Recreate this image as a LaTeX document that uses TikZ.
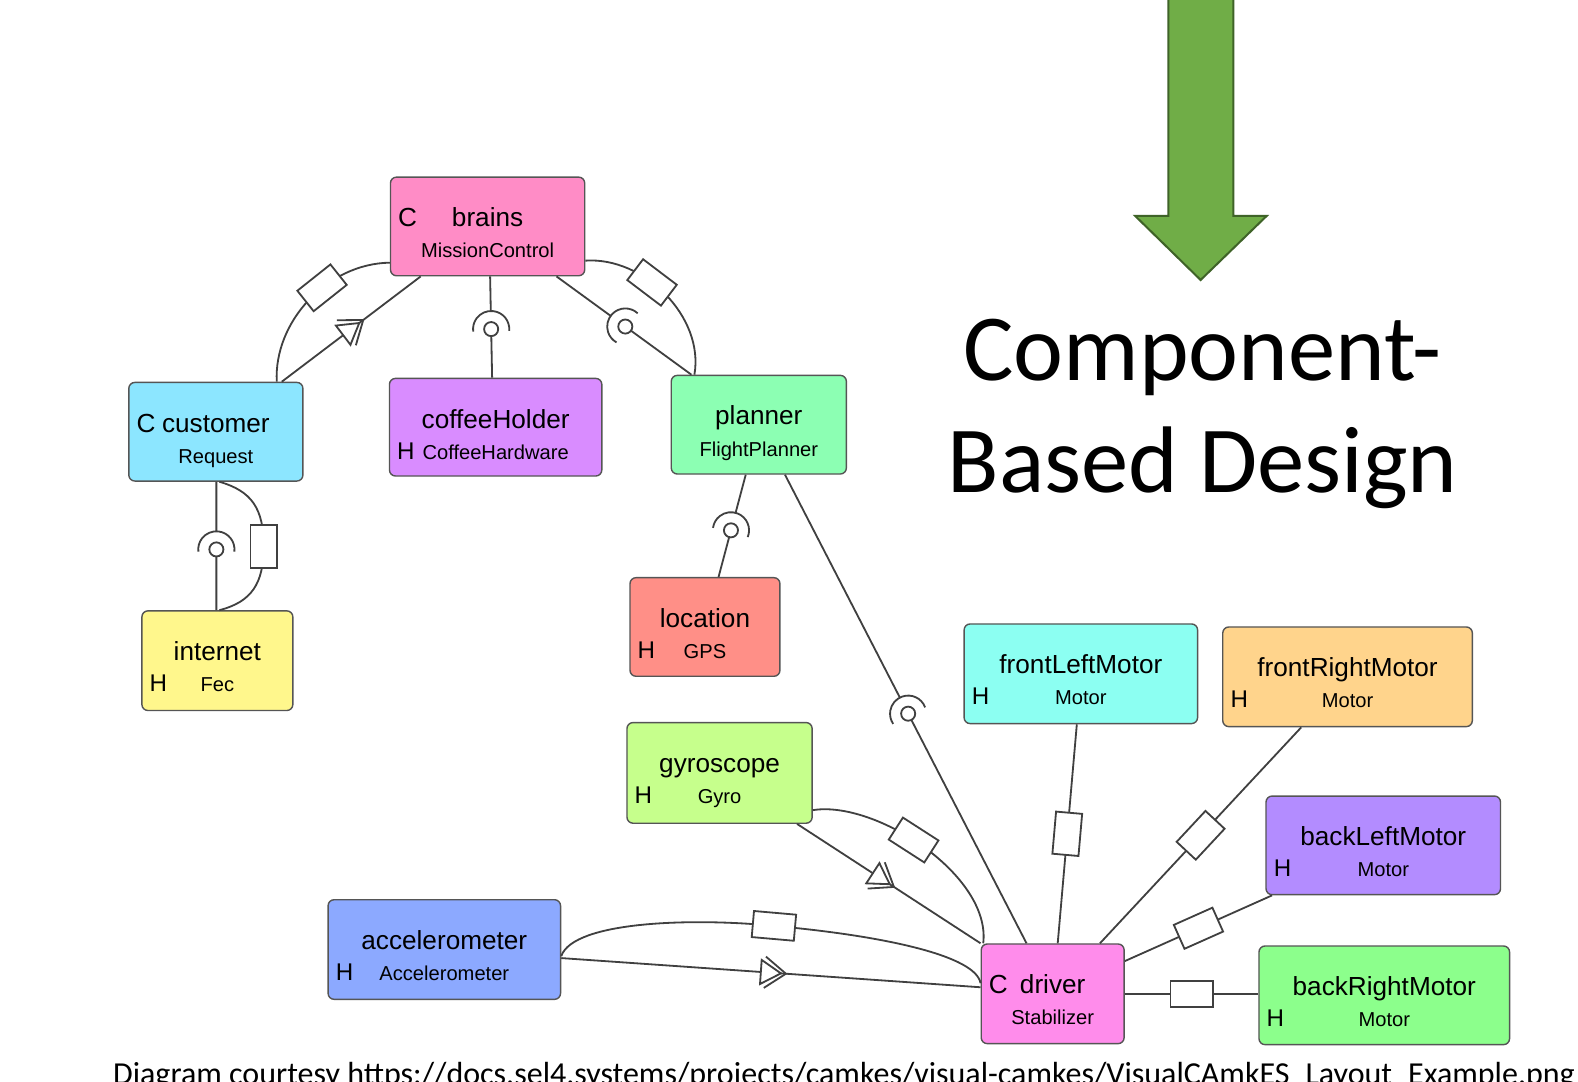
\documentclass[tikz,border=0pt]{standalone}
\usepackage{fontspec}
\setmainfont{Liberation Sans}
\newfontfamily\headfont{Carlito}
\usetikzlibrary{calc,fit,decorations.markings}

\definecolor{linegray}{HTML}{404040}
\definecolor{boxedge}{HTML}{555555}
\definecolor{arrowgreen}{HTML}{70AD47}
\definecolor{arrowedge}{HTML}{3F6328}
\definecolor{cBrains}{HTML}{FF8CC6}
\definecolor{cCustomer}{HTML}{8CE6FF}
\definecolor{cCoffee}{HTML}{D98CFF}
\definecolor{cPlanner}{HTML}{8CFFB3}
\definecolor{cInternet}{HTML}{FFF78C}
\definecolor{cLocation}{HTML}{FF8F87}
\definecolor{cGyro}{HTML}{C6FF8C}
\definecolor{cAccel}{HTML}{8CA9FF}
\definecolor{cDriver}{HTML}{FF8CEB}
\definecolor{cFLM}{HTML}{8CFFF2}
\definecolor{cFRM}{HTML}{FFD48C}
\definecolor{cBLM}{HTML}{B38CFF}
\definecolor{cBRM}{HTML}{8CFF8C}

\tikzset{
  comp/.style={draw=boxedge, line width=0.7pt, rounded corners=3pt, inner sep=0pt},
  ttl/.style={font=\fontsize{13}{15}\selectfont, anchor=base, inner sep=0pt},
  sub/.style={font=\fontsize{10}{12}\selectfont, anchor=base, inner sep=0pt},
  kindlabel/.style={font=\fontsize{12}{14}\selectfont, anchor=base west, inner sep=0pt},
  conn/.style={draw=linegray, line width=0.9pt},
  rectsym/.style={draw=linegray, line width=0.9pt, fill=white,
    minimum width=21pt, minimum height=13pt, inner sep=0pt},
  evt/.style={postaction={decorate}, decoration={markings, mark=at position #1 with {
    \filldraw[draw=linegray, fill=white, line width=0.9pt, line join=miter]
      (-5pt,6pt) -- (5pt,0pt) -- (-5pt,-6pt) -- cycle;
    \draw[linegray, line width=0.9pt, line join=miter]
      (-3pt,7.8pt) -- (7.5pt,0pt) -- (-3pt,-7.8pt);
  }}},
  head/.style={font=\headfont\fontsize{47}{56}\selectfont, anchor=base, inner sep=0pt},
  credit/.style={font=\headfont\fontsize{15.9}{18}\selectfont, anchor=base west, inner sep=0pt},
}

% component box: name, left, top, right, bottom, colour, title, type
\newcommand{\compbox}[8]{%
  \node[comp, fill=#6, fit={(#2,#3) (#4,#5)}] (#1) {};
  \node[ttl] (#1-title) at ($(#1.north)+(0,50)$) {#7};
  \node[sub] (#1-type) at ($(#1.north)+(0,81)$) {#8};
}
% kind letters: C on the title line, H on the type line
\newcommand{\kindC}[1]{\node[kindlabel, font=\fontsize{13}{15}\selectfont] (#1-kind) at ($(#1.north west)+(8,50)$) {C};}
\newcommand{\kindH}[1]{\node[kindlabel] (#1-kind) at ($(#1.north west)+(8,81)$) {H};}

% procedure link: socket on the using side #1, ball on the providing side #2
\newcommand{\socketlink}[4]{%
  \coordinate (#4) at ($(#1)!#3!(#2)$);
  \draw[conn] let \p1=($(#1)-(#4)$), \n1={atan2(\y1,\x1)} in
    (#1) -- ($(#4)+(\n1:9pt)$)
    ($(#4)+(\n1-97:9pt)$) arc[start angle=\n1-97, end angle=\n1+97, radius=9pt];
  \draw[conn] (#2) -- ($(#4)!3.5pt!(#2)$);
  \draw[conn, fill=white] (#4) circle[radius=3.5pt];
}

\begin{document}
\begin{tikzpicture}[x=0.5pt, y=-0.5pt]
\useasboundingbox (0,0) rectangle (1568,1075);
\clip (0,0) rectangle (1568,1075);
\fill[white] (0,0) rectangle (1568,1075);

% big down arrow
\filldraw[fill=arrowgreen, draw=arrowedge, line width=1pt, line join=miter]
  (1161,-10) -- (1161,214.6) -- (1128,214.6) -- (1193,278.2) -- (1258.6,214.6)
  -- (1225.5,214.6) -- (1225.5,-10) -- cycle;

\node[head] (head-a) at (1195,378) {Component-};
\node[head] (head-b) at (1195,489) {Based Design};

% components
\compbox{brains}{388}{176}{581}{274}{cBrains}{brains}{MissionControl}
\compbox{customer}{128}{380}{301}{478}{cCustomer}{customer}{Request}
\compbox{coffee}{387}{376}{598}{473}{cCoffee}{coffeeHolder}{CoffeeHardware}
\compbox{planner}{667}{373}{841}{471}{cPlanner}{planner}{FlightPlanner}
\compbox{internet}{141}{607}{291}{706}{cInternet}{internet}{Fec}
\compbox{location}{626}{574}{775}{672}{cLocation}{location}{GPS}
\compbox{gyro}{623}{718}{807}{818}{cGyro}{gyroscope}{Gyro}
\compbox{accel}{326}{894}{557}{993}{cAccel}{accelerometer}{Accelerometer}
\compbox{driver}{975}{938}{1117}{1037}{cDriver}{driver}{Stabilizer}
\compbox{flm}{958}{620}{1190}{719}{cFLM}{frontLeftMotor}{Motor}
\compbox{frm}{1215}{623}{1463}{722}{cFRM}{frontRightMotor}{Motor}
\compbox{blm}{1258}{791}{1491}{889}{cBLM}{backLeftMotor}{Motor}
\compbox{brm}{1251}{940}{1500}{1038}{cBRM}{backRightMotor}{Motor}

\kindC{brains}
\kindC{customer}
\kindC{driver}
\kindH{coffee}
\kindH{internet}
\kindH{location}
\kindH{gyro}
\kindH{accel}
\kindH{flm}
\kindH{frm}
\kindH{blm}
\kindH{brm}

% customer <-> brains
\draw[conn, evt=0.5] (280,0 |- customer.north) -- (418,0 |- brains.south);
\draw[conn] (275,0 |- customer.north) .. controls (272,320) and (325,262) .. (brains.west |- 0,261)
  node[rectsym, sloped, pos=0.6] (cb-port) {};

% brains -> coffeeHolder
\coordinate (bc-a) at (487,0 |- brains.south);
\coordinate (bc-b) at (489,0 |- coffee.north);
\socketlink{bc-a}{bc-b}{0.52}{bc-ball}

% brains <-> planner
\coordinate (bp-a) at (553,0 |- brains.south);
\coordinate (bp-b) at (687,0 |- planner.north);
\socketlink{bp-a}{bp-b}{0.51}{bp-ball}
\draw[conn] (brains.east |- 0,259) .. controls (640,255) and (700,315) .. (690,0 |- planner.north)
  node[rectsym, sloped, pos=0.4] (bp-port) {};

% customer <-> internet
\coordinate (ci-a) at (215,0 |- customer.south);
\coordinate (ci-b) at (215,0 |- internet.north);
\socketlink{ci-a}{ci-b}{0.527}{ci-ball}
\draw[conn] (218,0 |- customer.south) .. controls (250,488) and (262,505) .. (262,543)
  .. controls (262,580) and (250,598) .. (218,0 |- internet.north);
\node[rectsym, rotate=90] (ci-port) at (262,543) {};

% planner -> location
\coordinate (pl-a) at (741,0 |- planner.south);
\coordinate (pl-b) at (714,0 |- location.north);
\socketlink{pl-a}{pl-b}{0.544}{pl-ball}

% planner -> driver
\coordinate (pd-a) at (780,0 |- planner.south);
\coordinate (pd-b) at (1020,0 |- driver.north);
\socketlink{pd-a}{pd-b}{0.51}{pd-ball}

% gyroscope -> driver
\draw[conn, evt=0.46] (792,0 |- gyro.south) -- (driver.north west);
\draw[conn] (gyro.east |- 0,805) .. controls (870,795) and (985,870) .. (977,0 |- driver.north)
  node[rectsym, sloped, pos=0.45] (gd-port) {};

% accelerometer -> driver
\draw[conn, evt=0.5] (accel.east |- 0,952) -- (driver.west |- 0,981);
\draw[conn] (accel.east |- 0,950) .. controls (570,915) and (690,912) .. (769,920)
  .. controls (880,930) and (970,950) .. (driver.west |- 0,977);
\node[rectsym, rotate=-5] (ad-port) at (769,920) {};

% motors
\draw[conn] (1070,0 |- flm.south) -- node[rectsym, sloped] (fl-port) {} (1051,0 |- driver.north);
\draw[conn] (1293,0 |- frm.south) -- node[rectsym, sloped] (fr-port) {} (1093,0 |- driver.north);
\draw[conn] (1264,0 |- blm.south) -- node[rectsym, sloped] (bl-port) {} (driver.east |- 0,955);
\draw[conn] (driver.east |- 0,988) -- node[rectsym, sloped] (br-port) {} (brm.west |- 0,988);

\node[credit] (credit) at (112,1078) {Diagram courtesy https://docs.sel4.systems/projects/camkes/visual-camkes/VisualCAmkES\_Layout\_Example.png};
\end{tikzpicture}
\end{document}
